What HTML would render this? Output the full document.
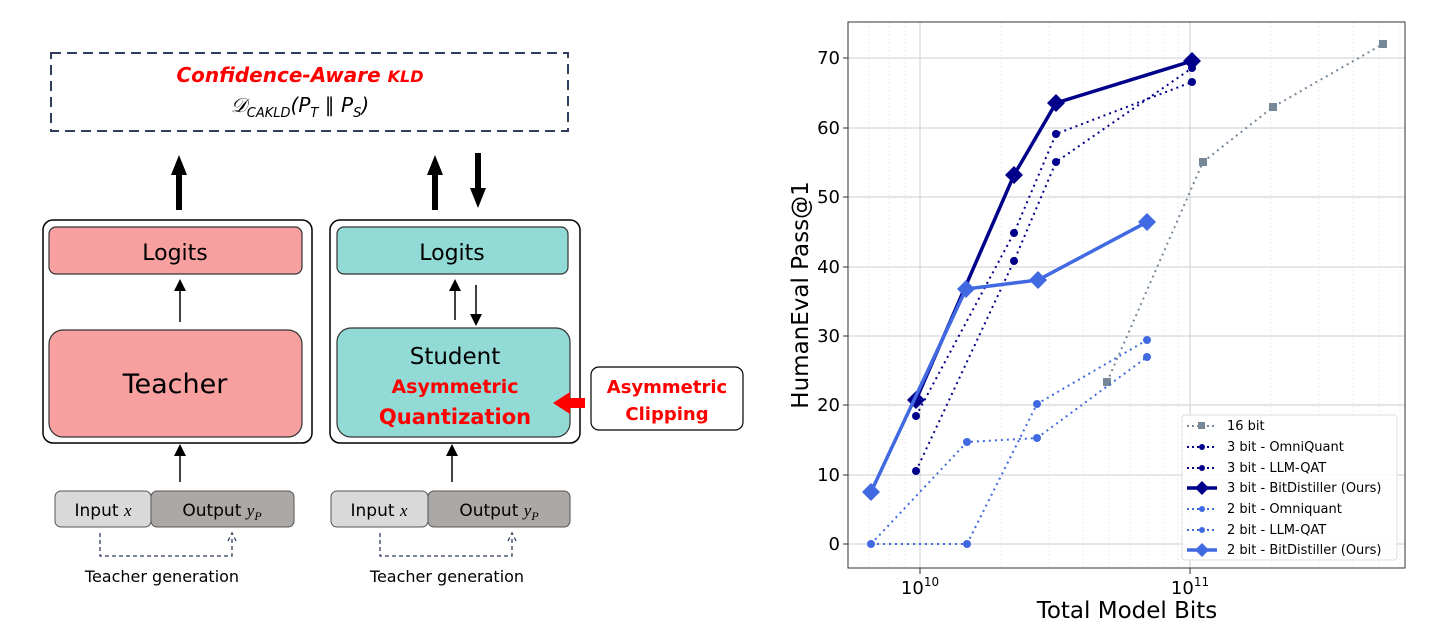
<!DOCTYPE html><html><head><style>body{margin:0;background:#fff}svg{display:block}text{font-family:"DejaVu Sans","Liberation Sans",sans-serif}</style></head><body>
<svg width="1432" height="637" viewBox="0 0 1432 637" xmlns="http://www.w3.org/2000/svg">
<defs><marker id="ah" markerWidth="8" markerHeight="8" refX="4" refY="4" orient="auto"><path d="M0,0 L8,4 L0,8 z" fill="#000"/></marker></defs>
<rect x="51" y="53" width="517" height="78" fill="none" stroke="#2f3e5c" stroke-width="2" stroke-dasharray="10,6"/>
<text x="300" y="82" text-anchor="middle" font-size="20" font-weight="bold" font-style="italic" fill="#ff0000">Confidence-Aware <tspan font-size="16">KLD</tspan></text>
<text x="300" y="112" text-anchor="middle" font-size="20" font-family="Liberation Serif,serif" font-style="italic" fill="#000">𝒟<tspan font-size="13" dy="5">CAKLD</tspan><tspan dy="-5">(P</tspan><tspan font-size="13" dy="5">T</tspan><tspan dy="-5"> ∥ P</tspan><tspan font-size="13" dy="5">S</tspan><tspan dy="-5">)</tspan></text>
<g fill="#000"><rect x="176" y="173" width="6" height="37"/><path d="M171,175 L179,155 L187,175z"/>
<rect x="432" y="173" width="6" height="37"/><path d="M427,175 L435,155 L443,175z"/>
<rect x="475" y="153" width="6" height="37"/><path d="M470,188 L478,208 L486,188z"/></g>
<rect x="43" y="220" width="269" height="223" rx="10" fill="none" stroke="#000" stroke-width="1.5"/>
<rect x="49" y="227" width="253" height="47" rx="7" fill="#f8a0a0" stroke="#333" stroke-width="1.2"/>
<text x="175" y="260" text-anchor="middle" font-size="22">Logits</text>
<rect x="49" y="330" width="253" height="107" rx="14" fill="#f8a0a0" stroke="#333" stroke-width="1.2"/>
<text x="175" y="393" text-anchor="middle" font-size="27">Teacher</text>
<line x1="180" y1="322" x2="180" y2="285" stroke="#000" stroke-width="1.5" marker-end="url(#ah)"/>
<rect x="330" y="220" width="250" height="223" rx="10" fill="none" stroke="#000" stroke-width="1.5"/>
<rect x="337" y="227" width="231" height="47" rx="7" fill="#91dad6" stroke="#333" stroke-width="1.2"/>
<text x="452" y="260" text-anchor="middle" font-size="22">Logits</text>
<rect x="337" y="328" width="233" height="109" rx="14" fill="#91dad6" stroke="#333" stroke-width="1.2"/>
<text x="455" y="364" text-anchor="middle" font-size="23">Student</text>
<text x="455" y="393" text-anchor="middle" font-size="19" font-weight="bold" fill="#ff0000">Asymmetric</text>
<text x="455" y="424" text-anchor="middle" font-size="21" font-weight="bold" fill="#ff0000">Quantization</text>
<line x1="455" y1="320" x2="455" y2="285" stroke="#000" stroke-width="1.5" marker-end="url(#ah)"/>
<line x1="476" y1="285" x2="476" y2="320" stroke="#000" stroke-width="1.5" marker-end="url(#ah)"/>
<rect x="591" y="367" width="152" height="63" rx="8" fill="#fff" stroke="#000" stroke-width="1.2"/>
<text x="667" y="393" text-anchor="middle" font-size="18" font-weight="bold" fill="#ff0000">Asymmetric</text>
<text x="667" y="420" text-anchor="middle" font-size="18" font-weight="bold" fill="#ff0000">Clipping</text>
<path d="M585,398 L570,398 L570,392 L553,403 L570,414 L570,408 L585,408z" fill="#ff0000"/>
<line x1="180" y1="482" x2="180" y2="450" stroke="#000" stroke-width="1.5" marker-end="url(#ah)"/>
<line x1="452" y1="482" x2="452" y2="450" stroke="#000" stroke-width="1.5" marker-end="url(#ah)"/>
<rect x="55" y="491" width="96" height="36" rx="6" fill="#d9d9d9" stroke="#555"/>
<rect x="151" y="491" width="143" height="36" rx="6" fill="#aba8a6" stroke="#555"/>
<text x="103" y="516" text-anchor="middle" font-size="17">Input <tspan font-style="italic" font-family="Liberation Serif,serif">x</tspan></text>
<text x="222" y="516" text-anchor="middle" font-size="17">Output <tspan font-style="italic" font-family="Liberation Serif,serif">y<tspan font-size="12" dy="4">P</tspan></tspan></text>
<rect x="331" y="491" width="97" height="36" rx="6" fill="#d9d9d9" stroke="#555"/>
<rect x="428" y="491" width="142" height="36" rx="6" fill="#aba8a6" stroke="#555"/>
<text x="379" y="516" text-anchor="middle" font-size="17">Input <tspan font-style="italic" font-family="Liberation Serif,serif">x</tspan></text>
<text x="499" y="516" text-anchor="middle" font-size="17">Output <tspan font-style="italic" font-family="Liberation Serif,serif">y<tspan font-size="12" dy="4">P</tspan></tspan></text>
<g fill="none" stroke="#2f3e5c" stroke-width="1.3" stroke-dasharray="4,3">
<path d="M100,533 V556 H232 V536"/><path d="M228,541 L232,533 L236,541"/>
<path d="M380,533 V556 H512 V536"/><path d="M508,541 L512,533 L516,541"/></g>
<text x="162" y="582" text-anchor="middle" font-size="16">Teacher generation</text>
<text x="447" y="582" text-anchor="middle" font-size="16">Teacher generation</text>
<g stroke="#eee" stroke-width="1" stroke-dasharray="2,2">
<line x1="869" y1="22" x2="869" y2="568"/><line x1="889" y1="22" x2="889" y2="568"/><line x1="905" y1="22" x2="905" y2="568"/>
<line x1="1001" y1="22" x2="1001" y2="568"/><line x1="1049" y1="22" x2="1049" y2="568"/><line x1="1083" y1="22" x2="1083" y2="568"/><line x1="1109" y1="22" x2="1109" y2="568"/><line x1="1130" y1="22" x2="1130" y2="568"/><line x1="1148" y1="22" x2="1148" y2="568"/><line x1="1164" y1="22" x2="1164" y2="568"/><line x1="1178" y1="22" x2="1178" y2="568"/>
<line x1="1271" y1="22" x2="1271" y2="568"/><line x1="1319" y1="22" x2="1319" y2="568"/><line x1="1353" y1="22" x2="1353" y2="568"/><line x1="1379" y1="22" x2="1379" y2="568"/><line x1="1400" y1="22" x2="1400" y2="568"/></g>
<g stroke="#d8d8d8" stroke-width="1.3">
<line x1="920" y1="22" x2="920" y2="568"/><line x1="1190" y1="22" x2="1190" y2="568"/>
<line x1="848" y1="544" x2="1405" y2="544"/><line x1="848" y1="475" x2="1405" y2="475"/><line x1="848" y1="405" x2="1405" y2="405"/><line x1="848" y1="336" x2="1405" y2="336"/><line x1="848" y1="267" x2="1405" y2="267"/><line x1="848" y1="197" x2="1405" y2="197"/><line x1="848" y1="128" x2="1405" y2="128"/><line x1="848" y1="58" x2="1405" y2="58"/></g>
<rect x="848" y="22" width="557" height="546" fill="none" stroke="#333" stroke-width="1"/>
<g font-size="18" fill="#000" text-anchor="end">
<text x="840" y="550">0</text><text x="840" y="481">10</text><text x="840" y="411">20</text><text x="840" y="342">30</text><text x="840" y="273">40</text><text x="840" y="203">50</text><text x="840" y="134">60</text><text x="840" y="64">70</text></g>
<g stroke="#333"><line x1="843" y1="544" x2="848" y2="544"/><line x1="843" y1="475" x2="848" y2="475"/><line x1="843" y1="405" x2="848" y2="405"/><line x1="843" y1="336" x2="848" y2="336"/><line x1="843" y1="267" x2="848" y2="267"/><line x1="843" y1="197" x2="848" y2="197"/><line x1="843" y1="128" x2="848" y2="128"/><line x1="843" y1="58" x2="848" y2="58"/>
<line x1="920" y1="568" x2="920" y2="574"/><line x1="1190" y1="568" x2="1190" y2="574"/></g>
<text x="920" y="594" text-anchor="middle" font-size="18">10<tspan font-size="12" dy="-8">10</tspan></text>
<text x="1190" y="594" text-anchor="middle" font-size="18">10<tspan font-size="12" dy="-8">11</tspan></text>
<text x="1127" y="618" text-anchor="middle" font-size="23">Total Model Bits</text>
<text transform="translate(808,295) rotate(-90)" text-anchor="middle" font-size="23">HumanEval Pass@1</text>
<polyline points="1107,382 1203,162 1273,107 1383,44" fill="none" stroke="#778899" stroke-width="2" stroke-dasharray="2,4"/>
<g fill="#778899"><rect x="1103" y="378" width="8" height="8"/><rect x="1199" y="158" width="8" height="8"/><rect x="1269" y="103" width="8" height="8"/><rect x="1379" y="40" width="8" height="8"/></g>
<polyline points="916,416 1014,233 1056,134 1192,82" fill="none" stroke="#00008b" stroke-width="2" stroke-dasharray="2,4"/>
<polyline points="916,471 1014,261 1056,162 1192,68" fill="none" stroke="#00008b" stroke-width="2" stroke-dasharray="2,4"/>
<g fill="#00008b"><circle cx="916" cy="416" r="4"/><circle cx="1014" cy="233" r="4"/><circle cx="1056" cy="134" r="4"/><circle cx="1192" cy="82" r="4"/><circle cx="916" cy="471" r="4"/><circle cx="1014" cy="261" r="4"/><circle cx="1056" cy="162" r="4"/><circle cx="1192" cy="68" r="4"/></g>
<polyline points="916,400 1014,175 1056,103 1192,61" fill="none" stroke="#00008b" stroke-width="3.5"/>
<g fill="#00008b"><path d="M916,391 l9,9 l-9,9 l-9,-9z"/><path d="M1014,166 l9,9 l-9,9 l-9,-9z"/><path d="M1056,94 l9,9 l-9,9 l-9,-9z"/><path d="M1192,52 l9,9 l-9,9 l-9,-9z"/></g>
<polyline points="871,544 967,544 1037,404 1147,340" fill="none" stroke="#4169e1" stroke-width="2" stroke-dasharray="2,4"/>
<polyline points="871,544 967,442 1037,438 1147,357" fill="none" stroke="#4169e1" stroke-width="2" stroke-dasharray="2,4"/>
<g fill="#4169e1"><circle cx="871" cy="544" r="4"/><circle cx="967" cy="544" r="4"/><circle cx="1037" cy="404" r="4"/><circle cx="1147" cy="340" r="4"/><circle cx="967" cy="442" r="4"/><circle cx="1037" cy="438" r="4"/><circle cx="1147" cy="357" r="4"/></g>
<polyline points="871,492 966,289 1038,280 1147,222" fill="none" stroke="#4169e1" stroke-width="3.5"/>
<g fill="#4169e1"><path d="M871,483 l9,9 l-9,9 l-9,-9z"/><path d="M966,280 l9,9 l-9,9 l-9,-9z"/><path d="M1038,271 l9,9 l-9,9 l-9,-9z"/><path d="M1147,213 l9,9 l-9,9 l-9,-9z"/></g>
<rect x="1182" y="415" width="215" height="145" rx="3" fill="#fff" fill-opacity="0.9" stroke="#ddd"/>
<g font-size="13" fill="#000">
<text x="1227" y="430">16 bit</text><text x="1227" y="451">3 bit - OmniQuant</text><text x="1227" y="472">3 bit - LLM-QAT</text><text x="1227" y="492">3 bit - BitDistiller (Ours)</text><text x="1227" y="513">2 bit - Omniquant</text><text x="1227" y="534">2 bit - LLM-QAT</text><text x="1227" y="554">2 bit - BitDistiller (Ours)</text></g>
<g stroke-width="2" stroke-dasharray="2,3"><line x1="1187" y1="426" x2="1217" y2="426" stroke="#778899"/><line x1="1187" y1="447" x2="1217" y2="447" stroke="#00008b"/><line x1="1187" y1="468" x2="1217" y2="468" stroke="#00008b"/><line x1="1187" y1="509" x2="1217" y2="509" stroke="#4169e1"/><line x1="1187" y1="530" x2="1217" y2="530" stroke="#4169e1"/></g>
<line x1="1187" y1="488" x2="1217" y2="488" stroke="#00008b" stroke-width="3.5"/><line x1="1187" y1="550" x2="1217" y2="550" stroke="#4169e1" stroke-width="3.5"/>
<rect x="1198" y="422" width="7" height="7" fill="#778899"/><circle cx="1202" cy="447" r="3" fill="#00008b"/><circle cx="1202" cy="468" r="3" fill="#00008b"/><path d="M1202,481 l7,7 l-7,7 l-7,-7z" fill="#00008b"/><circle cx="1202" cy="509" r="3" fill="#4169e1"/><circle cx="1202" cy="530" r="3" fill="#4169e1"/><path d="M1202,543 l7,7 l-7,7 l-7,-7z" fill="#4169e1"/>
</svg></body></html>
